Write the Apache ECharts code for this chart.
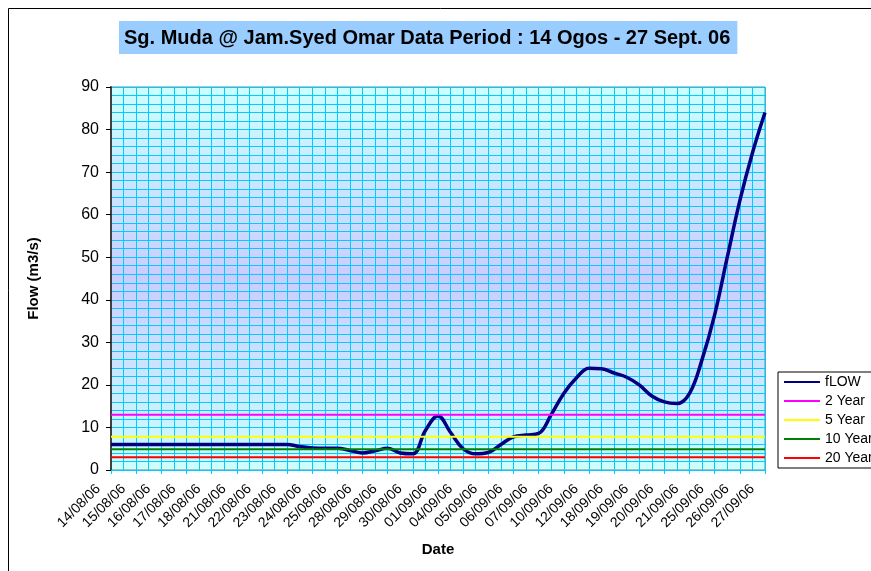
<!DOCTYPE html>
<html>
<head>
<meta charset="utf-8">
<script src="https://cdn.jsdelivr.net/npm/echarts@6/dist/echarts.min.js"></script>
<style>
  html, body { margin: 0; padding: 0; background: #fff; }
  #chart { width: 871px; height: 571px; }
</style>
</head>
<body>
<div id="chart"></div>
<script>
// tick labels (every other reading)
var dates = ['14/08/06', '15/08/06', '16/08/06', '17/08/06', '18/08/06', '21/08/06', '22/08/06',
  '23/08/06', '24/08/06', '25/08/06', '28/08/06', '29/08/06', '30/08/06', '01/09/06', '04/09/06',
  '05/09/06', '06/09/06', '07/09/06', '10/09/06', '12/09/06', '18/09/06', '19/09/06', '20/09/06',
  '21/09/06', '25/09/06', '26/09/06', '27/09/06'];

// flow readings (m3/s), two per labelled date
var flow = [6, 6, 6, 6, 6, 6, 6, 6, 6, 6, 6, 6, 6, 6, 6,
  5.5, 5.2, 5.1, 5.1, 4.6, 4.0, 4.5, 5.1, 4.0, 3.8,
  9.3, 12.7, 8.8, 5.0, 3.8, 4.1, 6.0, 7.8, 8.2, 8.6,
  13, 18, 21.6, 23.9, 23.8, 22.8, 21.8, 20.0, 17.4, 16.0,
  15.6, 18, 26, 36.5, 50, 63.3, 74.5, 84];

// return period flows
var periods = ['2 Year', '5 Year', '10 Year', '20 Year'];
var periodFlow = [13, 7.8, 4.9, 3.0];
var periodColor = ['#FF00FF', '#FFFF00', '#008000', '#FF0000'];

// category list: each date twice, last once
var categories = [];
for (var i = 0; i < flow.length; i++) {
  categories.push(dates[Math.floor(i / 2)]);
}

var chart = echarts.init(document.getElementById('chart'));

var series = [{
  name: 'fLOW',
  type: 'line',
  data: flow,
  smooth: 0.4,
  symbol: 'none',
  lineStyle: { color: '#000080', width: 3.5 },
  itemStyle: { color: '#000080' }
}];
periods.forEach(function (p, k) {
  series.push({
    name: p,
    type: 'line',
    data: [[0, periodFlow[k]], [flow.length - 1, periodFlow[k]]],
    symbol: 'none',
    lineStyle: { color: periodColor[k], width: 2 },
    itemStyle: { color: periodColor[k] }
  });
});

var option = {
  animation: false,
  textStyle: { fontFamily: 'Liberation Sans' },
  title: {
    text: 'Sg. Muda @ Jam.Syed Omar Data Period : 14 Ogos - 27 Sept. 06',
    left: 119,
    top: 21,
    padding: [6, 7, 5, 5],
    backgroundColor: '#99CCFF',
    textStyle: { fontSize: 20, fontWeight: 'bold', color: '#000', fontFamily: 'Liberation Sans', lineHeight: 22 }
  },
  legend: {
    orient: 'vertical',
    left: 778,
    top: 372,
    padding: [3, 4, 3, 5],
    itemGap: 5,
    itemWidth: 36,
    itemHeight: 14,
    borderColor: '#000',
    borderWidth: 1,
    borderRadius: 0,
    backgroundColor: '#fff',
    itemStyle: { opacity: 0 },
    textStyle: { fontSize: 14, lineHeight: 14, color: '#000', fontFamily: 'Liberation Sans' },
    data: ['fLOW'].concat(periods)
  },
  grid: {
    left: 111,
    right: 106,
    top: 87,
    bottom: 101,
    show: true,
    borderColor: '#808080',
    borderWidth: 1,
    backgroundColor: new echarts.graphic.LinearGradient(0, 0, 0, 1, [
      { offset: 0, color: '#CCFFFF' },
      { offset: 0.5, color: '#CCCCFF' },
      { offset: 1, color: '#CCFFFF' }
    ])
  },
  xAxis: {
    type: 'category',
    data: categories,
    boundaryGap: false,
    name: 'Date',
    nameLocation: 'middle',
    nameGap: 72,
    nameTextStyle: { fontSize: 15, fontWeight: 'bold', color: '#000' },
    axisLine: { lineStyle: { color: '#00CCFF', width: 1 } },
    axisTick: { interval: 1, length: 4, lineStyle: { color: '#00CCFF' } },
    axisLabel: { interval: 1, rotate: 45, fontSize: 14, color: '#000', margin: 4, padding: [0, 18, 0, 0] },
    splitLine: { show: true, interval: 0, lineStyle: { color: '#00CCFF', width: 1 } }
  },
  yAxis: {
    type: 'value',
    min: 0,
    max: 90,
    interval: 10,
    name: 'Flow (m3/s)',
    nameLocation: 'middle',
    nameGap: 70,
    nameTextStyle: { fontSize: 15, fontWeight: 'bold', color: '#000' },
    axisLine: { show: true, lineStyle: { color: '#404040', width: 2 } },
    axisTick: { show: true, length: 5, lineStyle: { color: '#000' } },
    axisLabel: { fontSize: 16, color: '#000', margin: 12 },
    splitLine: { show: true, lineStyle: { color: '#00CCFF', width: 1 } },
    minorTick: { show: false, splitNumber: 5 },
    minorSplitLine: { show: true, lineStyle: { color: '#00CCFF', width: 1 } }
  },
  graphic: [{
    type: 'rect',
    silent: true,
    z: -10,
    shape: { x: 8.5, y: 8.5, width: 900, height: 600 },
    style: { fill: 'none', stroke: '#000', lineWidth: 1 }
  }],
  series: series
};

chart.setOption(option);
</script>
</body>
</html>
